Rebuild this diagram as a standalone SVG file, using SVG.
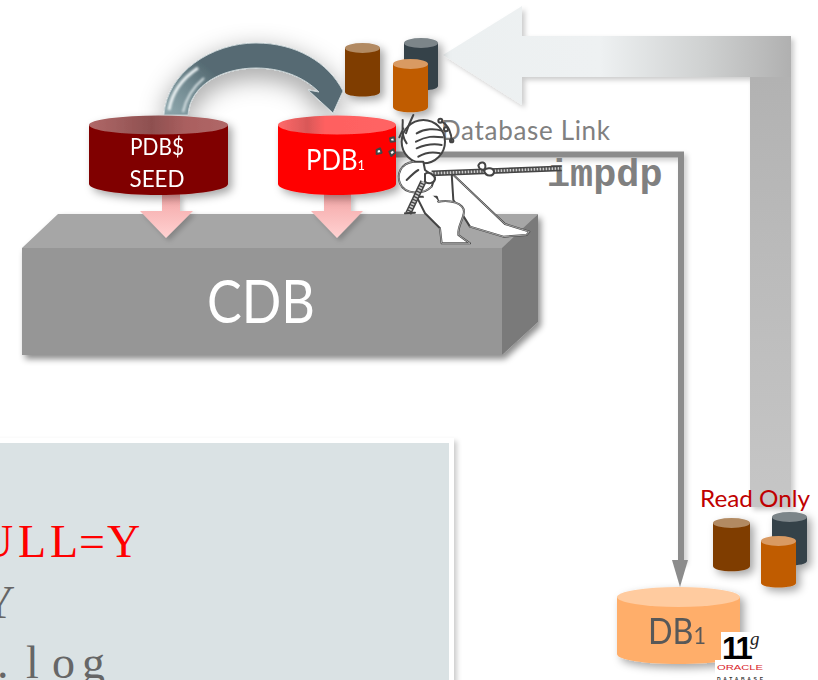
<svg xmlns="http://www.w3.org/2000/svg" width="818" height="680" viewBox="0 0 818 680">
<style>
.sans{font-family:"Lato","Liberation Sans",sans-serif}
.mono{font-family:"Liberation Mono",monospace}
.code{font-family:"Liberation Serif",serif;font-size:46px}
.wt{fill:#fff;text-anchor:middle}
.sk{fill:none;stroke:#444;stroke-width:6;stroke-linecap:round;stroke-linejoin:round}
.skw{fill:#fff;stroke:#444;stroke-width:6;stroke-linecap:round;stroke-linejoin:round}
.in{fill:none;stroke:#e4e4e4;stroke-width:1.800;stroke-linecap:round;stroke-linejoin:round}
</style>
<defs>
<filter id="sh" x="-20%" y="-20%" width="150%" height="150%"><feDropShadow dx="3" dy="4" stdDeviation="3" flood-color="#000" flood-opacity=".45"/></filter>
<filter id="shs" x="-30%" y="-30%" width="180%" height="170%"><feDropShadow dx="4" dy="4" stdDeviation="4" flood-color="#000" flood-opacity=".35"/></filter>
<filter id="shl" x="-20%" y="-20%" width="140%" height="140%"><feDropShadow dx="3" dy="3" stdDeviation="2.500" flood-color="#000" flood-opacity=".2"/></filter>
<filter id="shc" x="-30%" y="-40%" width="160%" height="190%"><feDropShadow dx="0" dy="8" stdDeviation="13" flood-color="#000" flood-opacity=".4"/></filter>
<filter id="soft"><feGaussianBlur stdDeviation="1"/></filter>
<linearGradient id="seedTop" x1="0" x2="1" y1="0" y2="0"><stop offset="0" stop-color="#b06868"/><stop offset=".45" stop-color="#8e5050"/><stop offset=".7" stop-color="#aa5f5f"/><stop offset="1" stop-color="#b06868"/></linearGradient>
<linearGradient id="pdbTop" x1="0" x2="1" y1="0" y2="0"><stop offset="0" stop-color="#ff6a6a"/><stop offset=".25" stop-color="#d95858"/><stop offset=".4" stop-color="#ff6060"/><stop offset="1" stop-color="#ff6464"/></linearGradient>
<linearGradient id="pink" x1="0" x2="0" y1="0" y2="1"><stop offset="0" stop-color="#f4a6a6"/><stop offset="1" stop-color="#ffd2d2"/></linearGradient>
<linearGradient id="bigH" gradientUnits="userSpaceOnUse" x1="443" x2="791" y1="0" y2="0"><stop offset="0" stop-color="#ecf0f1"/><stop offset=".45" stop-color="#eef1f2"/><stop offset=".75" stop-color="#cfd1d1"/><stop offset="1" stop-color="#b0b0b0"/></linearGradient>
<linearGradient id="bigV" gradientUnits="userSpaceOnUse" x1="0" x2="0" y1="77" y2="507"><stop offset="0" stop-color="#b2b2b2"/><stop offset="1" stop-color="#c6c6c6"/></linearGradient>
<linearGradient id="curve" gradientUnits="userSpaceOnUse" x1="165" y1="112" x2="205" y2="65"><stop offset="0" stop-color="#8ea7ad"/><stop offset=".6" stop-color="#6f878e"/><stop offset="1" stop-color="#566b73"/></linearGradient>
</defs>
<rect width="818" height="680" fill="#fff"/>

<g id="note-box">
<rect x="-10" y="438" width="464" height="260" fill="#fff" filter="url(#shl)"/>
<rect x="-10" y="443" width="459" height="250" fill="#dae2e4"/>
<text class="code" x="-20 18 50 79 107" y="557" fill="#f00">ULL=Y</text>
<text class="code" x="-18" y="618" fill="#666">Y</text>
<text class="code" x="-3 26 52 82" y="678" fill="#666">.log</text>
</g>

<g id="connectors">
<g filter="url(#shl)">
<path d="M750 70H791V507H750Z" fill="url(#bigV)"/>
<path d="M443 55 522 6V36H791V77H522V105Z" fill="url(#bigH)"/>
</g>
<path d="M396 154.500H681V562" fill="none" stroke="#8c8c8c" stroke-width="6" filter="url(#shl)"/>
<path d="M672 560H688L680 587Z" fill="#8c8c8c"/>
<path d="M164 115C167 72 212 43 256 43C296 43 328 62 343 91L333 113L308 90L319 92C303 76 280 68 256 68C222 68 190 85 188 115Z" fill="url(#curve)" stroke="#c9d3d6" stroke-width="1" filter="url(#shc)"/>
<path d="M169 110C172 92 183 78 198 68" fill="none" stroke="#eef4f5" stroke-width="3" filter="url(#soft)"/>
<path d="M183 112C186 98 192 88 204 78" fill="none" stroke="#dfe8ea" stroke-width="2" filter="url(#soft)"/>
</g>

<g id="cdb" filter="url(#sh)">
<path d="M58 214H538L502 248H22Z" fill="#a6a6a6"/>
<rect x="22" y="248" width="480" height="107" fill="#969696"/>
<path d="M502 248 538 214V322L502 355Z" fill="#7a7a7a"/>
<text class="sans wt" x="261" y="323" font-size="60" textLength="108" lengthAdjust="spacingAndGlyphs">CDB</text>
</g>

<g id="arrow-seed"><path d="M162 194H180V211H193L166 238L140 211H162Z" fill="url(#pink)" filter="url(#shl)"/></g>
<g id="arrow-pdb1"><path d="M324 194H351V211H363L337 238L311 211H324Z" fill="url(#pink)" filter="url(#shl)"/></g>

<g id="pdb-seed" filter="url(#shs)">
<path d="M89 125V184C89 190 120 195 158.500 195S228 190 228 184V125Z" fill="#800000"/>
<ellipse cx="158.500" cy="125" rx="69.500" ry="9.500" fill="url(#seedTop)"/>
<text class="sans wt" x="157" y="155" font-size="24" textLength="54" lengthAdjust="spacingAndGlyphs">PDB$</text>
<text class="sans wt" x="157" y="187" font-size="24" textLength="55" lengthAdjust="spacingAndGlyphs">SEED</text>
</g>

<g id="pdb1" filter="url(#shs)">
<path d="M278 125V184C278 190 304 195 337 195S396 190 396 184V125Z" fill="#f00"/>
<ellipse cx="337" cy="125" rx="59" ry="9.500" fill="url(#pdbTop)"/>
<text class="sans" x="306" y="170" font-size="28" fill="#fff" textLength="59" lengthAdjust="spacingAndGlyphs">PDB<tspan font-size="14">1</tspan></text>
</g>

<g id="cyl-top" filter="url(#shs)">
<path d="M404 43V86C404 92 438 92 438 86V43Z" fill="#36424a"/><ellipse cx="421" cy="43" rx="17" ry="5" fill="#7c8589"/>
<path d="M345 48V92C345 98 380 98 380 92V48Z" fill="#7f3d00"/><ellipse cx="362.500" cy="48" rx="17.500" ry="5" fill="#b28a62"/>
<path d="M393 64V107C393 114 428 114 428 107V64Z" fill="#c05c00"/><ellipse cx="410.500" cy="64" rx="17.500" ry="5" fill="#d99a62"/>
</g>

<g id="cyl-bottom" filter="url(#shs)">
<path d="M772 517V561C772 567 807 567 807 561V517Z" fill="#36424a"/><ellipse cx="789.500" cy="517" rx="17.500" ry="5" fill="#7c8589"/>
<path d="M713 523V566C713 573 750 573 750 566V523Z" fill="#7f3d00"/><ellipse cx="731.500" cy="523" rx="18.500" ry="5" fill="#b28a62"/>
<path d="M761 541V583C761 589 796 589 796 583V541Z" fill="#c05c00"/><ellipse cx="778.500" cy="541" rx="17.500" ry="5" fill="#d99a62"/>
</g>

<g id="db1" filter="url(#shs)">
<path d="M617 597V654C617 660 645 664 678.500 664S740 660 740 654V597Z" fill="#ffae6b"/>
<ellipse cx="678.500" cy="597" rx="61.500" ry="10" fill="#ffcb9f"/>
<text class="sans" x="648" y="644" font-size="36" fill="#595959" textLength="58" lengthAdjust="spacingAndGlyphs">DB<tspan font-size="24">1</tspan></text>
</g>

<text class="sans" x="441" y="140" font-size="26" textLength="169" fill="#808080">Database Link</text>
<text class="mono" x="547" y="186" font-size="38.500" font-weight="700" fill="#808080">impdp</text>
<text class="sans" x="700" y="507" font-size="24" textLength="110" lengthAdjust="spacingAndGlyphs" fill="#c00000">Read Only</text>

<g id="logo-11g">
<rect x="721" y="632" width="42" height="28" fill="#fff"/>
<rect x="715" y="660" width="50" height="20" fill="#fff"/>
<text x="722" y="659" font-family="Liberation Sans,sans-serif" font-size="31" font-weight="700" fill="#000" letter-spacing="-2">11</text>
<text x="750" y="645" font-family="Liberation Serif,serif" font-size="19" font-style="italic" fill="#222">g</text>
<text x="717" y="670" font-family="Liberation Sans,sans-serif" font-size="8" textLength="46" lengthAdjust="spacingAndGlyphs" fill="#d8232a">ORACLE</text>
<text x="717" y="681" font-family="Liberation Sans,sans-serif" font-size="5" font-weight="700" textLength="46" fill="#333">DATABASE</text>
</g>

<g id="figure" transform="translate(370 100) scale(.3333)">
<path class="skw" d="M245 220 405 372 478 395 470 405 400 410 300 380 250 300Z"/>
<path class="in" d="M245 220 405 372 478 395 470 405 400 410 300 380"/>
<path class="skw" d="M205 305C240 298 282 310 282 335C280 360 262 380 265 405L300 430H215L210 385 165 340 140 290 200 290Z"/>
<path class="in" d="M205 305C240 298 282 310 282 335C280 360 262 380 265 405L300 430H215L210 385"/>
<path d="M205 302 150 250 170 322 200 302Z" fill="#fff"/>
<circle class="skw" cx="160" cy="125" r="65" stroke-width="3"/>
<path class="sk" d="M140 100C165 85 195 85 215 92M138 125C170 108 190 108 218 112M140 145C170 132 190 130 215 135M145 170 C170 155 190 155 210 160"/>
<path class="sk" d="M110 130C90 105 100 75 98 60M108 100C115 75 125 55 130 45M88 112 100 85"/>
<path class="skw" d="M205 62a6 6 0 1 1 12 0a6 6 0 1 1-12 0M222 88a6 6 0 1 1 12 0a6 6 0 1 1-12 0M240 122a5 5 0 1 1 10 0a5 5 0 1 1-10 0"/>
<path class="sk" d="M215 65C235 75 245 100 245 125" stroke-width="3"/>
<path class="skw" d="M130 185C90 190 80 225 90 250C105 285 160 285 185 260L195 232 165 210 160 185Z"/>
<path class="in" d="M130 185C90 190 80 225 90 250C105 285 160 285 185 260"/>
<path class="sk" d="M110 240C125 225 135 215 145 210"/>
<path d="M160 245 115 340" stroke="#444" stroke-width="19" fill="none"/><path d="M160 245 115 340" stroke="#ccc" stroke-width="10" stroke-dasharray="5 4" fill="none"/>
<path d="M185 220 575 205" stroke="#444" stroke-width="17" fill="none"/><path d="M185 220 575 205" stroke="#ccc" stroke-width="8" stroke-dasharray="5 4" fill="none"/>
<path class="skw" d="M165 222C175 212 195 225 195 238C192 252 172 252 165 245ZM325 196C332 182 348 186 346 202C344 212 328 212 325 196ZM342 212C350 200 372 204 372 216C370 230 348 232 342 212Z"/>
<path class="sk" d="M105 340 135 338"/>
<path class="skw" d="M20 150 30 145 35 158 20 162ZM60 115 72 112 75 124 62 125ZM58 155 70 148 75 158 64 168Z"/>
</g>
</svg>
